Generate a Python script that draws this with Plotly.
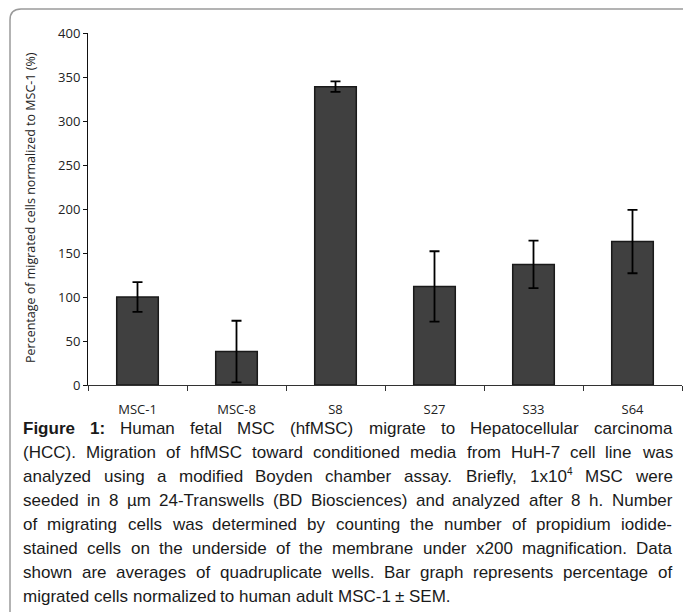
import plotly.graph_objects as go

categories = ["MSC-1", "MSC-8", "S8", "S27", "S33", "S64"]
values = [100, 38, 339, 112, 137, 163]
sem = [17, 35, 6, 40, 27, 36]
y_ticks = [0, 50, 100, 150, 200, 250, 300, 350, 400]
y_title = "Percentage of migrated cells normalized to MSC-1 (%)"

caption_lines = [
    [("Figure", True), ("1:", True), "Human", "fetal", "MSC", "(hfMSC)", "migrate", "to", "Hepatocellular", "carcinoma"],
    "(HCC). Migration of hfMSC toward conditioned media from HuH-7 cell line was".split(),
    ["analyzed", "using", "a", "modified", "Boyden", "chamber", "assay.", "Briefly,", "1x10^4", "MSC", "were"],
    "seeded in 8 µm 24-Transwells (BD Biosciences) and analyzed after 8 h. Number".split(),
    "of migrating cells was determined by counting the number of propidium iodide-".split(),
    "stained cells on the underside of the membrane under x200 magnification. Data".split(),
    "shown are averages of quadruplicate wells. Bar graph represents percentage of".split(),
    "migrated cells normalized to human adult MSC-1 ± SEM.".split(),
]

W, H = 683, 612
L, R, T, B = 88, 1, 33, 227
PW, PH = W - L - R, H - T - B


def px(x):
    return (x - L) / PW


def py(y):
    return (H - B - y) / PH


REG = {' ': 278, '(': 333, ')': 333, ',': 278, '-': 333, '.': 278, ':': 278, '±': 549, 'µ': 576}
for d in '0123456789':
    REG[d] = 556
REG.update(dict(zip("ABCDEFGHIJKLMNOPQRSTUVWXYZ",
                    [667, 667, 722, 722, 667, 611, 778, 722, 278, 500, 667, 556, 833, 722, 778, 667, 778, 722, 667, 611, 722, 667, 944, 667, 667, 611])))
REG.update(dict(zip("abcdefghijklmnopqrstuvwxyz",
                    [556, 556, 500, 556, 556, 278, 556, 556, 222, 222, 500, 222, 833, 556, 556, 556, 556, 333, 500, 278, 556, 500, 722, 500, 500, 500])))
BOLD = dict(REG)
BOLD.update({'F': 611, 'i': 278, 'g': 611, 'u': 611, 'r': 389, 'e': 556, '1': 556, ':': 333})

FS = 17
SUP_FS = 10
CAP_LEFT, CAP_RIGHT = 22, 671
CAP_Y0, CAP_DY = 428, 24
CAP_FONT = "Liberation Sans, Arial, sans-serif"


def word_info(w):
    if isinstance(w, tuple):
        txt, bold = w
    else:
        txt, bold = w, False
    table = BOLD if bold else REG
    if "^" in txt:
        base, sup = txt.split("^")
        width = (sum(table.get(c, 556) for c in base) * FS
                 + sum(table.get(c, 556) for c in sup) * SUP_FS) / 1000.0
        disp = base + "<sup><span style='font-size:%dpx'>%s</span></sup>" % (SUP_FS, sup)
    else:
        width = sum(table.get(c, 556) for c in txt) * FS / 1000.0
        disp = txt
    if bold:
        disp = "<b>" + disp + "</b>"
    return disp, width


fig = go.Figure()
fig.add_trace(go.Bar(
    x=categories, y=values, width=0.42,
    marker=dict(color="#404040", line=dict(color="#1a1a1a", width=1.5)),
    error_y=dict(type="data", array=sem, color="black", thickness=1.8, width=5),
))

annotations = []
annotations.append(dict(
    text=y_title, textangle=-90, x=px(30), y=py(208), xref="paper", yref="paper",
    showarrow=False, font=dict(family="Open Sans, sans-serif", size=12.5, color="#222"),
    xanchor="center", yanchor="middle"))

space_w = 278 * FS / 1000.0
for i, line in enumerate(caption_lines):
    infos = [word_info(w) for w in line]
    total = sum(wd for _, wd in infos)
    last = i == len(caption_lines) - 1
    gap = space_w if last else (CAP_RIGHT - CAP_LEFT - total) / (len(infos) - 1)
    xpos = CAP_LEFT
    ycen = CAP_Y0 + i * CAP_DY
    for disp, wd in infos:
        annotations.append(dict(
            text=disp, x=px(xpos), y=py(ycen), xref="paper", yref="paper",
            showarrow=False, xanchor="left", yanchor="middle", borderpad=0,
            font=dict(family=CAP_FONT, size=FS, color="#1a1a1a")))
        xpos += wd + gap

border = ("M {a},{b} L {a},{c} Q {a},{d} {e},{d} L {f},{d}").format(
    a=px(10), b=py(640), c=py(20), d=py(9), e=px(21), f=px(700))

fig.update_layout(
    width=W, height=H, margin=dict(l=L, r=R, t=T, b=B, pad=0),
    paper_bgcolor="white", plot_bgcolor="white", showlegend=False,
    font=dict(family="Open Sans, sans-serif", size=13, color="#222"),
    annotations=annotations,
    shapes=[dict(type="path", path=border, xref="paper", yref="paper",
                 line=dict(color="#9a9a9a", width=1.5), layer="above")],
    xaxis=dict(range=[-0.5, 5.5], showline=True, linecolor="#333", linewidth=1,
               ticks="outside", ticklen=5, tickcolor="#333", tickson="boundaries",
               ticklabelstandoff=12, showgrid=False, zeroline=False, fixedrange=True),
    yaxis=dict(range=[0, 400], tickvals=y_ticks, showline=True, linecolor="#111", linewidth=1,
               ticks="outside", ticklen=4, tickcolor="#111", showgrid=False, zeroline=False,
               fixedrange=True),
)

fig.write_html("out.html")
